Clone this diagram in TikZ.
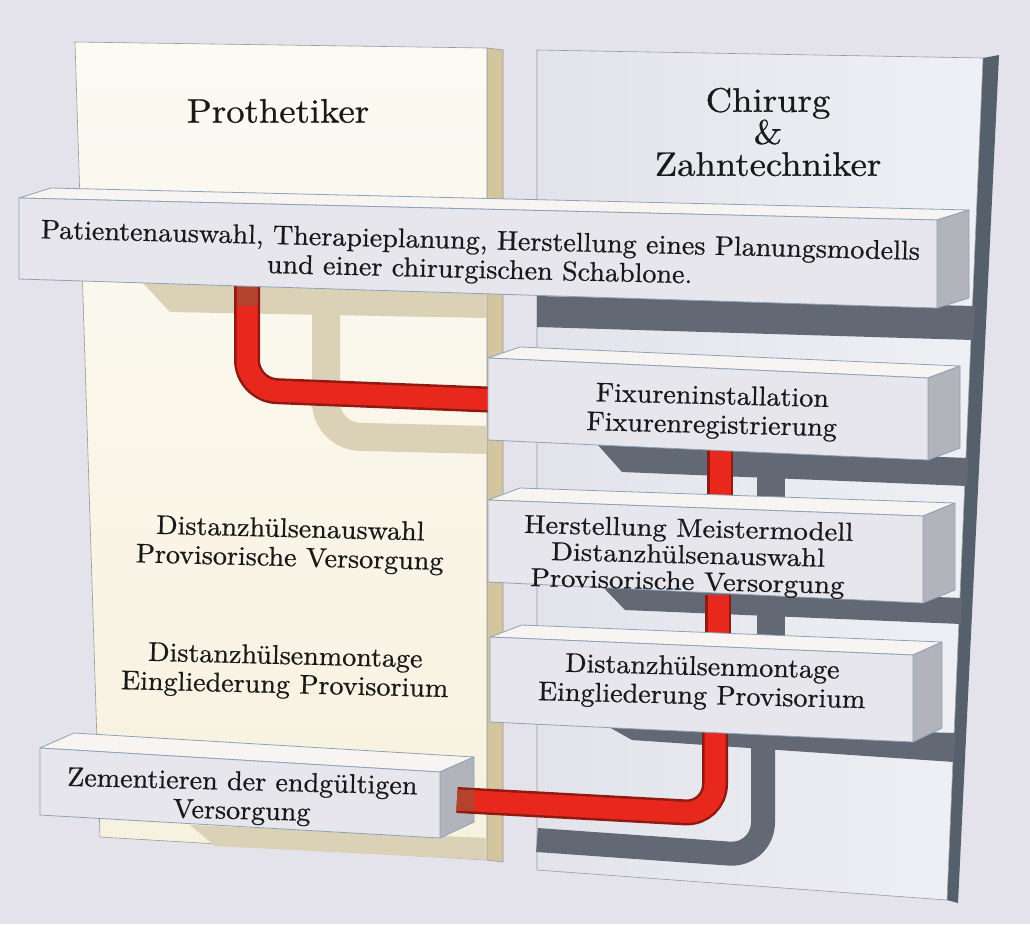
\documentclass[tikz,border=0pt]{standalone}
\usepackage{fontspec}
\setmainfont{lmroman10-regular.otf}[FakeBold=0.7]
\usetikzlibrary{calc}

\definecolor{bgcol}{HTML}{E4E2EA}
\definecolor{creamA}{HTML}{FCFAF3}
\definecolor{creamB}{HTML}{F4EBD0}
\definecolor{creamC}{HTML}{F7F1DE}
\definecolor{tanside}{HTML}{D3C69E}
\definecolor{tanshade}{HTML}{DAD1B6}
\definecolor{paneR}{HTML}{E3E4EB}
\definecolor{paneRlight}{HTML}{EFF0F5}
\definecolor{slate}{HTML}{56606C}
\definecolor{pipegrey}{HTML}{626974}
\definecolor{boxtopc}{HTML}{F7F4F2}
\definecolor{boxfrontc}{HTML}{E7E6EC}
\definecolor{boxendc}{HTML}{B3B3BC}
\definecolor{edgeblue}{HTML}{8CA2B8}
\definecolor{pipered}{HTML}{E8281C}
\definecolor{pipedark}{HTML}{8E1A12}
\definecolor{pipebrown}{HTML}{B4432E}

\begin{document}
\begin{tikzpicture}[x=1pt,y=-1pt,
  boxtop/.style={fill=boxtopc,draw=edgeblue,line width=0.8pt,line join=round},
  boxfront/.style={fill=boxfrontc,draw=edgeblue,line width=0.8pt,line join=round},
  boxend/.style={fill=boxendc,draw=edgeblue,line width=0.8pt,line join=round},
  redpipe/.style={draw=pipered,line width=21pt,rounded corners=30pt,preaction={draw=pipedark,line width=26pt}},
  pipeend/.style={draw=pipebrown,line width=21pt},
  greypipe/.style={draw=pipegrey,line width=24pt,rounded corners=34pt},
  tanpipe/.style={draw=tanshade,line width=28pt,rounded corners=34pt},
  lbl/.style={font=\fontsize{27}{29}\selectfont,align=center,rotate=-1.4,xscale=1.04,text=black!90,inner sep=0pt},
  head/.style={font=\fontsize{34}{32}\selectfont,align=center,xscale=1.08,text=black!90,inner sep=0pt}]
\useasboundingbox (0,0) rectangle (1030,924);

% background
\fill[bgcol] (0,0) rectangle (1030,924);

% left panel: Prothetiker
\fill[tanside,draw=black!40,line width=0.6pt] (487,48) -- (503,50) -- (503,862) -- (487,860) -- cycle;
\shade[top color=creamA,middle color=creamB,bottom color=creamC,draw=black!40,line width=0.6pt]
  (75,42) -- (487,48) -- (487,860) -- (100,837) -- cycle;
\fill[tanshade] (140,280) -- (487,288) -- (487,318) -- (170,312) -- cycle;
\fill[tanshade] (190,825) -- (487,838) -- (487,860) -- (215,846) -- cycle;
\draw[tanpipe] (326,285) -- (326,436) -- (487,440);

% right panel: Chirurg & Zahntechniker
\fill[slate] (983,58) -- (999,55) -- (958,903) -- (947,900) -- cycle;
\shade[left color=paneR,right color=paneRlight,draw=black!40,line width=0.6pt]
  (537,50) -- (983,58) -- (947,900) -- (537,870) -- cycle;

% shadow pipes on the right panel
\fill[pipegrey] (537,296) -- (975,306) -- (973,340) -- (537,327) -- cycle;
\fill[pipegrey] (597,444) -- (968,458) -- (967,486) -- (622,472) -- cycle;
\draw[greypipe,line width=28pt] (771,460) -- (771,505);
\fill[pipegrey] (600,584) -- (962,598) -- (961,624) -- (625,610) -- cycle;
\draw[greypipe,line width=28pt] (771,600) -- (771,640);
\fill[pipegrey] (600,722) -- (955,733) -- (954,762) -- (632,740) -- cycle;
\draw[greypipe] (537,840) -- (763,856) -- (763,735);

% red pipes
\coordinate (r1a) at (247,280);
\coordinate (r1b) at (500,400);
\draw[redpipe] (r1a) -- (247,390) -- (r1b);
\draw[pipeend] (r1a) -- (247,306);
\coordinate (r2a) at (720,450);
\coordinate (r2b) at (720,510);
\draw[redpipe] (r2a) -- (r2b);
\coordinate (r3a) at (718,595);
\coordinate (r3b) at (718,645);
\draw[redpipe] (r3a) -- (r3b);

% box 1
\fill[boxtop] (19,198) -- (51,188) -- (969,210) -- (937,220) -- cycle;
\fill[boxend] (937,220) -- (969,210) -- (969,298) -- (937,308) -- cycle;
\fill[boxfront] (19,198) -- (937,220) -- (937,308) -- (19,279) -- cycle;
% box 2
\fill[boxtop] (488,358) -- (520,347) -- (960,366) -- (928,378) -- cycle;
\fill[boxend] (928,378) -- (960,366) -- (960,448) -- (928,460) -- cycle;
\fill[boxfront] (488,358) -- (928,378) -- (928,460) -- (488,440) -- cycle;
% box 3
\fill[boxtop] (488,500) -- (520,488) -- (955,503) -- (923,516) -- cycle;
\fill[boxend] (923,516) -- (955,503) -- (955,590) -- (923,603) -- cycle;
\fill[boxfront] (488,500) -- (923,516) -- (923,603) -- (488,582) -- cycle;
% box 5
\fill[boxtop] (40,748) -- (74,733) -- (474,757) -- (440,772) -- cycle;
\fill[boxend] (440,772) -- (474,757) -- (474,822) -- (440,838) -- cycle;
\fill[boxfront] (40,748) -- (440,772) -- (440,838) -- (40,815) -- cycle;

% red pipe to box 5
\coordinate (r4a) at (715,730);
\coordinate (r4b) at (457,800);
\draw[redpipe] (r4a) -- (715,814) -- (r4b);
\draw[pipeend] (r4b) -- (474,800.5);

% box 4
\fill[boxtop] (490,637) -- (522,625) -- (942,642) -- (913,655) -- cycle;
\fill[boxend] (913,655) -- (942,642) -- (942,728) -- (913,742) -- cycle;
\fill[boxfront] (490,637) -- (913,655) -- (913,742) -- (490,722) -- cycle;

% texts
\node[head] (prot) at (278,111) {Prothetiker};
\node[head] (chir) at (768,132) {Chirurg\\\&\\Zahntechniker};
\node[lbl] (patient) at (480,257) {Patientenauswahl, Therapieplanung, Herstellung eines Planungsmodells\\und einer chirurgischen Schablone.};
\node[lbl] (fixur) at (712,412) {Fixureninstallation\\Fixurenregistrierung};
\node[lbl,font=\fontsize{26}{26.5}\selectfont,xscale=1.06] (herst) at (688,557) {Herstellung Meistermodell\\Distanzhülsenauswahl\\Provisorische Versorgung};
\node[lbl] (distR) at (702,683) {Distanzhülsenmontage\\Eingliederung Provisorium};
\node[lbl] (zement) at (242,798) {Zementieren der endgültigen\\Versorgung};
\node[lbl] (distL1) at (290,545) {Distanzhülsenauswahl\\Provisorische Versorgung};
\node[lbl] (distL2) at (285,672) {Distanzhülsenmontage\\Eingliederung Provisorium};
\end{tikzpicture}
\end{document}
